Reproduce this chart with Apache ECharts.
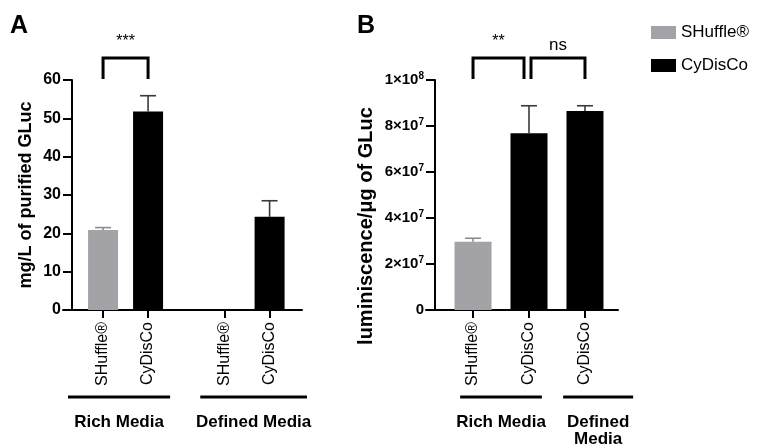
<!DOCTYPE html>
<html>
<head>
<meta charset="utf-8">
<script src="https://cdn.jsdelivr.net/npm/echarts@6/dist/echarts.min.js"></script>
<style>
  html, body { margin: 0; background: #fff; }
  #chart { width: 759px; height: 448px; }
</style>
</head>
<body>
<div id="chart"></div>
<script>
const strains = ['SHuffle®', 'CyDisCo'];

// panel A - mg/L of purified GLuc
const catsA = ['SHuffle®', 'CyDisCo', 'SHuffle®', 'CyDisCo'];
const posA = [1, 2, 3.7, 4.7];
const meanA = [20.9, 51.8, 0, 24.3];
const sdA = [0.6, 4.1, 0, 4.2];
const strainA = [0, 1, 0, 1];
const sigPairsA = [[0, 1]];
const sigA = ['***'];
const groupsA = ['Rich Media', 'Defined Media'];
const groupSpanA = [[0.22, 2.49], [3.16, 5.53]];

// panel B - luminiscence per ug
const catsB = ['SHuffle®', 'CyDisCo', 'CyDisCo'];
const posB = [1, 2, 3];
const meanB = [2.97e7, 7.68e7, 8.65e7];
const sdB = [0.15e7, 1.2e7, 0.23e7];
const strainB = [0, 1, 1];
const sigPairsB = [[0, 1], [1, 2]];
const sigB = ['**', 'ns'];
const groupsB = ['Rich Media', 'Defined\nMedia'];
const groupSpanB = [[0.77, 2.23], [2.61, 3.86]];

const FONT = 'Liberation Sans, Arial, sans-serif';
const barColors = ['#a3a3a7', '#000000'];
const errColors = ['#8c8c90', '#3a3a3a'];

const myChart = echarts.init(document.getElementById('chart'));

function barSeries(pos, mean, strain, s, axis, width) {
  const data = [];
  for (let i = 0; i < pos.length; i++) {
    if (strain[i] === s) data.push([pos[i], mean[i]]);
  }
  return {
    name: strains[s],
    type: 'bar',
    xAxisIndex: axis,
    yAxisIndex: axis,
    barWidth: width,
    barGap: '-100%',
    itemStyle: { color: barColors[s] },
    data: data,
    z: 2
  };
}

function errorSeries(pos, mean, sd, strain, axis) {
  return {
    type: 'custom',
    xAxisIndex: axis,
    yAxisIndex: axis,
    z: 3,
    data: pos.map((p, i) => [p, mean[i], sd[i], strain[i]]),
    renderItem: function (params, api) {
      if (api.value(2) <= 0) return null;
      const x = api.value(0);
      const p0 = api.coord([x, api.value(1)]);
      const p1 = api.coord([x, api.value(1) + api.value(2)]);
      const c = errColors[api.value(3)];
      const st = { stroke: c, lineWidth: 1.6 };
      return {
        type: 'group',
        children: [
          { type: 'line', shape: { x1: p0[0], y1: p0[1], x2: p1[0], y2: p1[1] }, style: st },
          { type: 'line', shape: { x1: p1[0] - 8, y1: p1[1], x2: p1[0] + 8, y2: p1[1] }, style: st }
        ]
      };
    }
  };
}

function bracketSeries(pos, pairs, labels, ymax, axis) {
  return {
    type: 'custom',
    xAxisIndex: axis,
    yAxisIndex: axis,
    z: 5,
    data: pairs.map(p => [pos[p[0]], pos[p[1]]]),
    renderItem: function (params, api) {
      const pr = pairs[params.dataIndex];
      // leave a little room where two brackets share a bar
      const shareLeft = pairs.some(q => q[1] === pr[0]);
      const shareRight = pairs.some(q => q[0] === pr[1]);
      const a = api.coord([api.value(0), ymax]);
      const b = api.coord([api.value(1), ymax]);
      const x1 = a[0] + (shareLeft ? 2 : 0);
      const x2 = b[0] - (shareRight ? 5 : 0);
      const yb = a[1] - 1, yt = a[1] - 22;
      const lab = labels[params.dataIndex];
      return {
        type: 'group',
        children: [
          {
            type: 'polyline',
            shape: { points: [[x1, yb], [x1, yt], [x2, yt], [x2, yb]] },
            style: { stroke: '#000', lineWidth: 3, fill: null }
          },
          {
            type: 'text',
            style: {
              text: lab, x: (x1 + x2) / 2, y: yt - (lab === 'ns' ? 4 : 8),
              align: 'center', verticalAlign: 'bottom',
              font: (lab === 'ns' ? '17px ' : '16px ') + FONT, fill: '#000'
            }
          }
        ]
      };
    }
  };
}

function groupSeries(spans, labels, axis) {
  return {
    type: 'custom',
    xAxisIndex: axis,
    yAxisIndex: axis,
    z: 5,
    data: spans,
    renderItem: function (params, api) {
      const a = api.coord([api.value(0), 0]);
      const b = api.coord([api.value(1), 0]);
      const y = a[1] + 87;
      return {
        type: 'group',
        children: [
          { type: 'line', shape: { x1: a[0], y1: y, x2: b[0], y2: y }, style: { stroke: '#000', lineWidth: 3 } },
          {
            type: 'text',
            style: {
              text: labels[params.dataIndex], x: (a[0] + b[0]) / 2, y: y + 17,
              align: 'center', verticalAlign: 'top', lineHeight: 17,
              font: 'bold 17px ' + FONT, fill: '#000'
            }
          }
        ]
      };
    }
  };
}

function xAxisFor(pos, cats, grid, min, max) {
  return {
    type: 'value',
    gridIndex: grid,
    min: min,
    max: max,
    splitLine: { show: false },
    axisLine: { show: true, lineStyle: { color: '#000', width: 2 } },
    axisTick: { show: true, customValues: pos, length: 8, lineStyle: { color: '#000', width: 2 } },
    axisLabel: {
      customValues: pos,
      rotate: 90,
      margin: 12,
      fontFamily: FONT,
      fontSize: 16,
      color: '#000',
      formatter: v => cats[pos.indexOf(v)]
    }
  };
}

function sciLabel(v) {
  if (v === 0) return '{b|0}';
  const e = Math.floor(Math.log10(v) + 1e-9);
  const m = Math.round(v / Math.pow(10, e));
  return '{b|' + m + '×10}{s|' + e + '}';
}

const option = {
  animation: false,
  backgroundColor: '#fff',
  textStyle: { fontFamily: FONT },
  legend: {
    data: strains,
    orient: 'vertical',
    left: 646,
    top: 19,
    itemWidth: 25,
    itemHeight: 13,
    itemGap: 16,
    icon: 'rect',
    textStyle: { fontSize: 17, color: '#000', fontFamily: FONT }
  },
  grid: [
    { left: 63, top: 80, width: 239, height: 230 },
    { left: 426, top: 80, width: 192, height: 230 }
  ],
  xAxis: [
    xAxisFor(posA, catsA, 0, 0.11, 5.42),
    xAxisFor(posB, catsB, 1, 0.16, 3.59)
  ],
  yAxis: [
    {
      type: 'value', gridIndex: 0, min: 0, max: 60, interval: 10, offset: -9,
      splitLine: { show: false },
      axisLine: { show: true, lineStyle: { color: '#000', width: 2 } },
      axisTick: { show: true, length: 9, lineStyle: { color: '#000', width: 2 } },
      axisLabel: { fontFamily: FONT, fontSize: 16, fontWeight: 'bold', color: '#000', margin: 11 }
    },
    {
      type: 'value', gridIndex: 1, min: 0, max: 1e8, interval: 2e7, offset: -9,
      splitLine: { show: false },
      axisLine: { show: true, lineStyle: { color: '#000', width: 2 } },
      axisTick: { show: true, length: 9, lineStyle: { color: '#000', width: 2 } },
      axisLabel: {
        margin: 11,
        formatter: sciLabel,
        rich: {
          b: { fontFamily: FONT, fontSize: 15, fontWeight: 'bold', color: '#000' },
          s: { fontFamily: FONT, fontSize: 10, fontWeight: 'bold', color: '#000', verticalAlign: 'bottom', padding: [0, 0, 7, 0] }
        }
      }
    }
  ],
  graphic: [
    { type: 'text', left: 10, top: 14, style: { text: 'A', font: 'bold 25px ' + FONT, fill: '#000' } },
    { type: 'text', left: 357, top: 14, style: { text: 'B', font: 'bold 25px ' + FONT, fill: '#000' } },
    {
      type: 'text', x: 26, y: 195, rotation: Math.PI / 2,
      style: { text: 'mg/L of purified GLuc', font: 'bold 18px ' + FONT, fill: '#000', align: 'center', verticalAlign: 'middle' }
    },
    {
      type: 'text', x: 366, y: 226, rotation: Math.PI / 2,
      style: { text: 'luminiscence/μg of GLuc', font: 'bold 20px ' + FONT, fill: '#000', align: 'center', verticalAlign: 'middle' }
    }
  ],
  series: [
    barSeries(posA, meanA, strainA, 0, 0, 30),
    barSeries(posA, meanA, strainA, 1, 0, 30),
    barSeries(posB, meanB, strainB, 0, 1, 37),
    barSeries(posB, meanB, strainB, 1, 1, 37),
    errorSeries(posA, meanA, sdA, strainA, 0),
    errorSeries(posB, meanB, sdB, strainB, 1),
    bracketSeries(posA, sigPairsA, sigA, 60, 0),
    bracketSeries(posB, sigPairsB, sigB, 1e8, 1),
    groupSeries(groupSpanA, groupsA, 0),
    groupSeries(groupSpanB, groupsB, 1)
  ]
};
myChart.setOption(option);
</script>
</body>
</html>
